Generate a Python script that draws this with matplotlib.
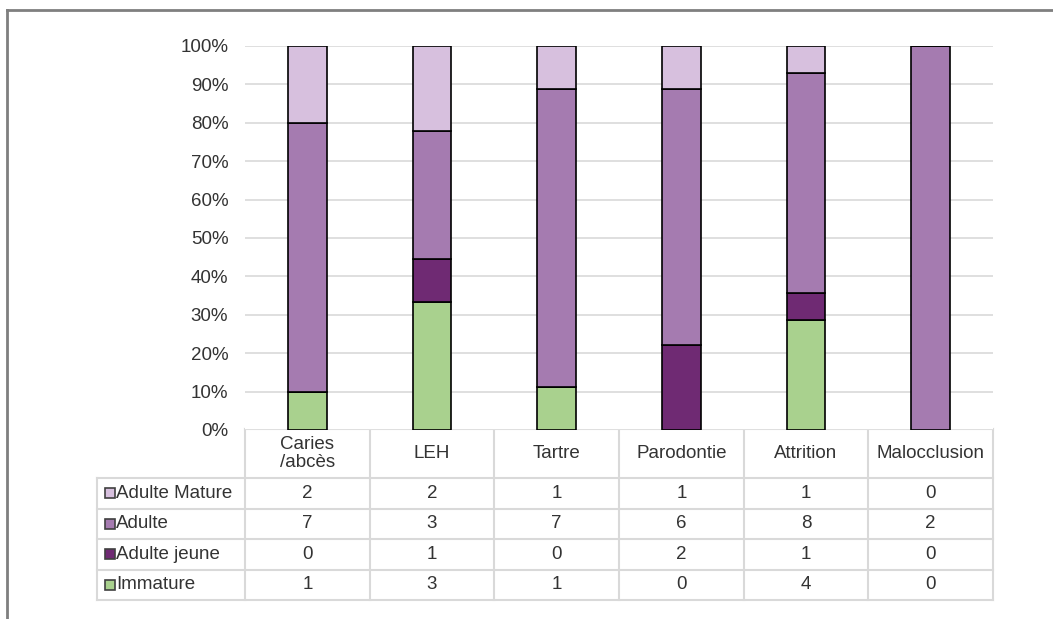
import numpy as np
import matplotlib
matplotlib.use("Agg")
import matplotlib.pyplot as plt
from matplotlib.ticker import PercentFormatter
from matplotlib.patches import Rectangle

plt.rcParams['font.family'] = ['Liberation Sans', 'DejaVu Sans']

# data
categories = ["Caries\n/abcès", "LEH", "Tartre", "Parodontie", "Attrition", "Malocclusion"]
series_names = ["Immature", "Adulte jeune", "Adulte", "Adulte Mature"]
immature = [1, 3, 1, 0, 4, 0]
adulte_jeune = [0, 1, 0, 2, 1, 0]
adulte = [7, 3, 7, 6, 8, 2]
adulte_mature = [2, 2, 1, 1, 1, 0]
colors = ["#a9d18e", "#6f2a73", "#a57bb0", "#d7c0de"]

counts = np.array([immature, adulte_jeune, adulte, adulte_mature], dtype=float)
shares = counts / counts.sum(axis=0)

W, H = 1053, 619
FS = 13.5
TXT = "#333333"
fig = plt.figure(figsize=(W / 100, H / 100), dpi=100)

# overlay axes in pixel coords for frame + data table
bg = fig.add_axes([0, 0, 1, 1])
bg.set_xlim(0, W)
bg.set_ylim(H, 0)
bg.axis("off")

# main plot area
x0, x1 = 245, 993
y_top, y_bot = 46, 430
ax = fig.add_axes([x0 / W, 1 - y_bot / H, (x1 - x0) / W, (y_bot - y_top) / H])
n = len(categories)
xpos = np.arange(n) + 0.5
bottom = np.zeros(n)
for i in range(len(series_names)):
    ax.bar(xpos, shares[i], 0.31, bottom=bottom, color=colors[i],
           edgecolor="black", linewidth=1.2, zorder=3)
    bottom += shares[i]
ax.set_xlim(0, n)
ax.set_ylim(0, 1)
ax.set_yticks(np.arange(0, 1.01, 0.1))
ax.yaxis.set_major_formatter(PercentFormatter(1.0, decimals=0))
ax.set_xticks([])
ax.tick_params(axis="y", length=0, pad=12, labelsize=FS, labelcolor=TXT)
ax.grid(axis="y", color="#d9d9d9", linewidth=1.2, zorder=0)
for s in ax.spines.values():
    s.set_visible(False)

# figure frame (top and left edges)
bg.plot([7, W], [10, 10], color="#7f7f7f", lw=2)
bg.plot([7, 7], [10, H], color="#7f7f7f", lw=2)

# data table
tcol = "#d9d9d9"
lab_x0 = 97
col_w = (x1 - x0) / n
head_top, head_bot = 429, 478
row_h = 30.5
rows_bottom = head_bot + row_h * len(series_names)

# header cells
bg.plot([x0, x1], [head_top, head_top], color=tcol, lw=1.5)
for j in range(n + 1):
    xx = x0 + j * col_w
    bg.plot([xx, xx], [head_top, rows_bottom], color=tcol, lw=1.5)
bg.plot([lab_x0, lab_x0], [head_bot, rows_bottom], color=tcol, lw=1.5)
for r in range(len(series_names) + 1):
    yy = head_bot + r * row_h
    bg.plot([lab_x0, x1], [yy, yy], color=tcol, lw=1.5)

for j, cat in enumerate(categories):
    bg.text(x0 + (j + 0.5) * col_w, (head_top + head_bot) / 2, cat,
            ha="center", va="center", fontsize=FS, color=TXT,
            linespacing=1.15)

# rows, top row = last series
for r, si in enumerate(reversed(range(len(series_names)))):
    yc = head_bot + (r + 0.5) * row_h
    bg.add_patch(Rectangle((105, yc - 5), 10, 10, facecolor=colors[si],
                           edgecolor="#404040", lw=1.2))
    bg.text(116, yc, series_names[si], ha="left", va="center",
            fontsize=FS, color=TXT)
    for j in range(n):
        bg.text(x0 + (j + 0.5) * col_w, yc, str(int(counts[si, j])),
                ha="center", va="center", fontsize=FS, color=TXT)

fig.savefig("out.png", dpi=100)
